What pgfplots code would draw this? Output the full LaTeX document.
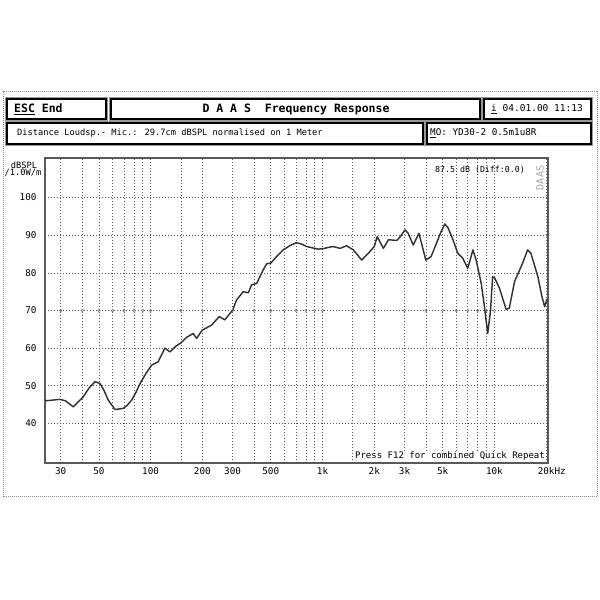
\documentclass[border=0pt]{standalone}
\usepackage{fontspec}
\setmainfont{DejaVu Sans Mono}
\usepackage{pgfplots}
\pgfplotsset{compat=1.18}
\pgfplotstableread{
f db
24.3 46.0
29.7 46.4
32 46.0
35.5 44.4
40.6 47.1
44 49.5
47.5 51.1
50.8 50.6
53.5 48.8
56.7 46.2
62.1 43.7
69.3 44.0
73 44.8
77.6 46.2
82 48.2
86.8 50.6
94 53.3
101.5 55.5
110.7 56.4
121.2 60.0
129.6 59.0
140 60.5
150 61.4
162.3 62.9
177 63.9
185 62.6
200 64.8
226 66.1
251 68.4
270 67.5
300 70.1
316 72.8
346 75.0
370 74.7
387 76.8
414 77.2
452 80.8
473 82.4
500 82.6
540 84.3
591 86.1
650 87.3
705 88.0
760 87.6
807 87.0
880 86.6
943 86.3
1000 86.4
1150 87.0
1265 86.5
1380 87.2
1510 86.1
1690 83.4
1850 85.2
2000 87.0
2080 89.6
2260 86.5
2420 88.8
2700 88.6
2820 89.5
3020 91.4
3150 90.5
3370 87.4
3640 90.5
3990 83.4
4280 84.3
4690 88.8
4900 91.0
5150 93.0
5380 91.9
5740 88.8
6120 85.2
6540 83.9
7000 81.2
7500 86.1
7830 83.4
8380 77.2
8750 71.0
9140 63.9
9500 70.1
9760 79.0
10050 78.6
10700 75.9
11700 70.3
12200 70.6
13100 77.7
14600 82.6
15600 86.1
16300 85.2
17900 79.0
18900 73.7
19600 71.0
20200 73.0
}\resp
\begin{document}
\begin{tikzpicture}
\useasboundingbox[fill=white] (0pt,0pt) rectangle (600pt,600pt);
\begin{scope}[x=1pt,y=1pt]
% outer frame
\draw[black!45, densely dotted, line width=1pt] (3,103) rectangle (597,508);
% header boxes
\draw[black!40, line width=0.5pt] (5.5,479.5) rectangle (107.5,502.5);
\draw[line width=1.8pt] (7,481) rectangle (106,501);
\draw[black!40, line width=0.5pt] (109.5,479.5) rectangle (481.5,502.5);
\draw[line width=1.8pt] (111,481) rectangle (480,501);
\draw[black!40, line width=0.5pt] (482.5,479.5) rectangle (592.5,502.5);
\draw[line width=1.8pt] (484,481) rectangle (591,501);
\draw[black!40, line width=0.5pt] (5.5,454.5) rectangle (424.5,478.5);
\draw[line width=1.8pt] (7,456) rectangle (423,477);
\draw[black!40, line width=0.5pt] (425.5,454.5) rectangle (592.5,478.5);
\draw[line width=1.8pt] (427,456) rectangle (591,477);
\node[anchor=west, inner sep=0pt, font=\fontsize{11.5}{13}\selectfont\bfseries] at (14,491) {\underline{ESC} End};
\node[inner sep=0pt, font=\fontsize{11.5}{13}\selectfont\bfseries] at (296,491) {D A A S \ Frequency Response};
\node[inner sep=0pt, font=\fontsize{9.5}{11}\selectfont] at (537,491) {\underline{i} 04.01.00 11:13};
\node[anchor=west, inner sep=0pt, font=\fontsize{8.7}{10}\selectfont] at (17,466.5) {Distance Loudsp.- Mic.: 29.7cm dBSPL normalised on 1 Meter};
\node[anchor=west, inner sep=0pt, font=\fontsize{9.3}{11}\selectfont] at (430,466.5) {\underline{M}O: YD30-2 0.5m1u8R};
% y label
\node[inner sep=0pt, font=\fontsize{8.7}{10}\selectfont] at (24,435) {dBSPL};
\node[inner sep=0pt, font=\fontsize{8.7}{10}\selectfont] at (23,427) {/1.0W/m};
\end{scope}
\begin{axis}[
  at={(45pt,137pt)}, anchor=south west,
  width=503pt, height=305pt, scale only axis,
  xmode=log, xmin=24.3, xmax=20500, ymin=29.5, ymax=110.5,
  axis line style={black!65, line width=1.3pt},
  xtick={30,50,100,200,300,500,1000,2000,3000,5000,10000,20000},
  xticklabels={30,50,100,200,300,500,1k,2k,3k,5k,10k,20k\rlap{Hz}},
  minor xtick={40,60,70,80,90,150,400,600,700,800,900,1500,4000,6000,7000,8000,9000},
  ytick={40,50,60,70,80,90,100},
  yticklabels={40,50,60,70,80,90,100},
  xmajorgrids, xminorgrids, ymajorgrids,
  grid style={black!65, line width=0.65pt, dash pattern=on 0.8pt off 2.2pt},
  minor grid style={black!65, line width=0.65pt, dash pattern=on 0.8pt off 2.2pt},
  major tick length=0pt, minor tick length=0pt,
  tick style={draw=none},
  xticklabel style={font=\fontsize{9.3}{10}\selectfont, yshift=-1pt},
  yticklabel style={font=\fontsize{9.3}{10}\selectfont, xshift=-5pt},
  clip=false,
]
\addplot[only marks, mark=o, mark size=1.2pt, black!55, mark options={line width=0.5pt}] coordinates {
(30,70)(40,70)(50,70)(60,70)(70,70)(80,70)(90,70)(100,70)(150,70)(200,70)(300,70)(400,70)(500,70)(600,70)(700,70)(800,70)(900,70)(1000,70)(1500,70)(2000,70)(3000,70)(4000,70)(5000,70)(6000,70)(7000,70)(8000,70)(9000,70)(10000,70)};
\addplot[black!80, line width=1.45pt, line join=round] table[x=f, y=db] {\resp};
\end{axis}
\begin{scope}[x=1pt,y=1pt]
\node[inner sep=0pt, font=\fontsize{8.3}{10}\selectfont] at (480,430) {87.5 dB (Diff:0.0)};
\node[anchor=east, inner sep=0pt, font=\fontsize{9}{10}\selectfont, fill=white] at (545,144) {Press F12 for combined Quick Repeat};
\node[inner sep=0pt, rotate=90, font=\fontsize{10}{11}\selectfont, black!35] at (540,422) {DAAS};
\end{scope}
\end{tikzpicture}
\end{document}
